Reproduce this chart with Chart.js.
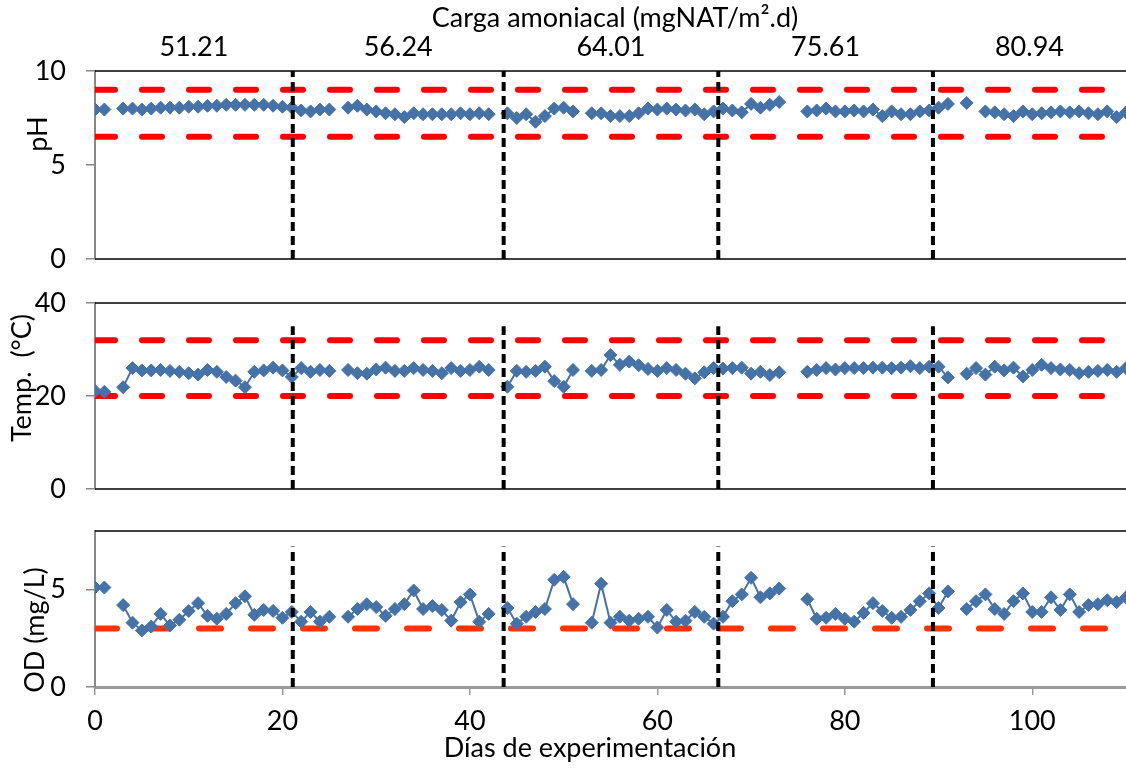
<!DOCTYPE html>
<html>
<head>
<meta charset="utf-8">
<title>Carga amoniacal - pH, temperatura y OD</title>
<script src="https://cdn.jsdelivr.net/npm/chart.js@4.4.1/dist/chart.umd.min.js"></script>
<style>
    html, body { margin: 0; padding: 0; background: #fff; }
    #wrap { position: relative; width: 1126px; height: 768px; overflow: hidden; background: #fff; }
    #wrap canvas { position: absolute; left: 0; top: 0; }
</style>
</head>
<body>
<div id="wrap">
    <canvas id="phChart" width="1126" height="768"></canvas>
    <canvas id="tempChart" width="1126" height="768"></canvas>
    <canvas id="odChart" width="1126" height="768"></canvas>
</div>
<script>
// Days of experimentation (x values)
const days = [
    0, 1, 2, 3, 4, 5, 6, 7, 8, 9, 10, 11, 12, 13, 14, 15, 16, 17, 18, 19,
    20, 21, 22, 23, 24, 25, 26, 27, 28, 29, 30, 31, 32, 33, 34, 35, 36, 37, 38, 39,
    40, 41, 42, 43, 44, 45, 46, 47, 48, 49, 50, 51, 52, 53, 54, 55, 56, 57, 58, 59,
    60, 61, 62, 63, 64, 65, 66, 67, 68, 69, 70, 71, 72, 73, 74, 75, 76, 77, 78, 79,
    80, 81, 82, 83, 84, 85, 86, 87, 88, 89, 90, 91, 92, 93, 94, 95, 96, 97, 98, 99,
    100, 101, 102, 103, 104, 105, 106, 107, 108, 109, 110
];

// pH per day (null = no measurement)
const phValues = [
    7.95, 7.95, null, 8.0, 8.0, 7.95, 8.0, 8.05, 8.05, 8.05, 8.1, 8.1, 8.15, 8.15, 8.2, 8.2, 8.2, 8.2, 8.2, 8.15,
    8.1, 8.05, 7.9, 7.85, 7.95, 7.95, null, 8.05, 8.15, 7.95, 7.85, 7.75, 7.7, 7.55, 7.75, 7.7, 7.7, 7.7, 7.7, 7.75,
    7.7, 7.75, 7.7, null, 7.75, 7.5, 7.7, 7.3, 7.6, 8.0, 8.05, 7.85, null, 7.75, 7.75, 7.6, 7.6, 7.6, 7.75, 8.0,
    7.95, 8.0, 7.95, 7.9, 7.95, 7.7, 7.85, 8.0, 7.9, 7.8, 8.25, 8.05, 8.2, 8.35, null, null, 7.85, 7.9, 8.0, 7.85,
    7.85, 7.9, 7.85, 7.95, 7.6, 7.85, 7.7, 7.7, 7.85, 7.9, 8.05, 8.25, null, 8.3, null, 7.85, 7.8, 7.7, 7.6, 7.85,
    7.7, 7.75, 7.8, 7.85, 7.8, 7.85, 7.75, 7.7, 7.85, 7.55, 7.8
];

// Temperature per day (°C)
const tempValues = [
    21.1, 20.9, null, 21.9, 26.0, 25.5, 25.5, 25.6, 25.4, 25.2, 24.9, 24.6, 25.6, 25.2, 24.1, 23.3, 21.9, 25.2, 25.5, 26.1,
    25.5, 24.1, 26.0, 25.2, 25.6, 25.4, null, 25.6, 24.9, 24.8, 25.7, 26.1, 25.4, 25.4, 26.0, 25.6, 25.4, 24.9, 26.0, 25.4,
    25.6, 26.3, 25.6, null, 22.0, 25.4, 25.2, 25.4, 26.3, 23.2, 22.0, 25.6, null, 25.4, 25.6, 28.8, 26.7, 27.4, 26.6, 25.8,
    25.4, 26.0, 25.6, 24.8, 23.8, 25.1, 26.0, 25.9, 26.0, 26.1, 24.8, 25.2, 24.5, 25.1, null, null, 25.2, 25.6, 26.0, 25.7,
    26.0, 26.0, 26.0, 26.1, 26.1, 26.0, 26.1, 26.4, 26.0, 26.3, 26.3, 24.0, null, 24.8, 26.0, 24.6, 26.3, 25.5, 26.1, 24.2,
    25.6, 26.7, 26.0, 25.7, 25.6, 24.9, 25.2, 25.4, 25.6, 25.2, 26.0
];

// Dissolved oxygen per day (mg/L)
const odValues = [
    5.1, 5.1, null, 4.2, 3.3, 2.9, 3.1, 3.75, 3.15, 3.45, 3.9, 4.3, 3.65, 3.5, 3.75, 4.3, 4.65, 3.7, 3.95, 3.9,
    3.55, 3.85, 3.35, 3.85, 3.35, 3.6, null, 3.6, 4.0, 4.25, 4.1, 3.65, 4.0, 4.25, 4.95, 4.0, 4.15, 3.95, 3.4, 4.35,
    4.75, 3.35, 3.75, null, 4.05, 3.25, 3.6, 3.85, 4.0, 5.5, 5.65, 4.25, null, 3.3, 5.3, 3.3, 3.6, 3.4, 3.5, 3.6,
    3.05, 3.95, 3.35, 3.4, 3.85, 3.6, 3.25, 3.6, 4.4, 4.75, 5.6, 4.6, 4.8, 5.05, null, null, 4.5, 3.5, 3.55, 3.75,
    3.5, 3.35, 3.8, 4.3, 3.9, 3.55, 3.6, 3.95, 4.4, 4.8, 4.05, 4.9, null, 4.0, 4.4, 4.75, 4.0, 3.75, 4.4, 4.8,
    3.85, 3.85, 4.6, 3.95, 4.75, 3.85, 4.2, 4.25, 4.45, 4.35, 4.6
];

// Limits (red dashed lines)
const phLimits = [6.5, 9];
const tempLimits = [20, 32];
const odLimits = [3];

// Days where the ammonia load changes, and the loads of each period
const phaseDays = [21.1, 43.6, 66.5, 89.4];
const loadLabels = ['51.21', '56.24', '64.01', '75.61', '80.94'];

// Height reached by the phase separators in each panel
const phPhaseTop = 10;
const tempPhaseTop = 35;
const odPhaseTop = 7.2;

const X_MIN = 0;
const X_MAX = 110;
const BLUE = '#4572A7';
const FONT_FAMILY = 'Lato, "Open Sans", sans-serif';
const FONT_SIZE = 27;
const FONT = `${FONT_SIZE}px ${FONT_FAMILY}`;

Chart.defaults.font.family = FONT_FAMILY;
Chart.defaults.font.size = FONT_SIZE;
Chart.defaults.color = '#000';

function seriesDataset(values) {
    return {
        data: days.map((d, i) => ({ x: d, y: values[i] })),
        borderColor: BLUE,
        backgroundColor: BLUE,
        borderWidth: 2,
        pointStyle: 'rectRot',
        pointRadius: 6.5,
        pointBorderWidth: 1,
        pointBackgroundColor: BLUE,
        pointBorderColor: BLUE,
        spanGaps: false,
        order: 1
    };
}

function limitDatasets(limits, color, dash) {
    return limits.map(v => ({
        data: [{ x: X_MIN, y: v }, { x: X_MAX, y: v }],
        borderColor: color,
        borderWidth: 6,
        borderDash: dash,
        borderCapStyle: 'round',
        pointRadius: 0,
        order: 2
    }));
}

function phaseDatasets(top) {
    return phaseDays.map(d => ({
        data: [{ x: d, y: 0 }, { x: d, y: top }],
        borderColor: '#000',
        borderWidth: 4,
        borderDash: [9, 5],
        pointRadius: 0,
        order: 0
    }));
}

// Draws panel frame lines and the free texts of each panel
function decorPlugin(opts) {
    return {
        id: 'decor',
        afterDraw(chart) {
            const ctx = chart.ctx;
            const area = chart.chartArea;
            ctx.save();
            ctx.strokeStyle = '#000';
            ctx.lineWidth = 1.5;
            ctx.beginPath();
            ctx.moveTo(area.left, area.top);
            ctx.lineTo(area.right, area.top);
            if (opts.bottomLine) {
                ctx.moveTo(area.left, area.bottom);
                ctx.lineTo(area.right, area.bottom);
            }
            ctx.stroke();

            ctx.fillStyle = '#000';
            ctx.font = FONT;
            ctx.textAlign = 'center';
            ctx.textBaseline = 'middle';

            (opts.texts || []).forEach(t => {
                ctx.fillText(t.text, t.x, t.y);
            });

            if (opts.loadLabels) {
                const xs = chart.scales.x;
                const bounds = [X_MIN, ...phaseDays, X_MAX];
                opts.loadLabels.forEach((label, i) => {
                    const mid = (bounds[i] + bounds[i + 1]) / 2;
                    ctx.fillText(label, xs.getPixelForValue(mid), opts.loadY);
                });
            }

            if (opts.yTitle) {
                ctx.translate(opts.yTitle.x, opts.yTitle.y);
                ctx.rotate(-Math.PI / 2);
                ctx.fillText(opts.yTitle.text, 0, 0);
            }
            ctx.restore();
        }
    };
}

function yAxis(max, step) {
    return {
        min: 0,
        max: max,
        afterFit: (scale) => { scale.width = 95; },
        ticks: { stepSize: step, padding: 20, includeBounds: false, font: { size: FONT_SIZE } },
        grid: { drawOnChartArea: false, drawTicks: true, tickLength: 9, color: '#888', lineWidth: 1.5 },
        border: { display: true, color: '#888', width: 2 }
    };
}

function hiddenX() {
    return { type: 'linear', min: X_MIN, max: X_MAX, display: false };
}

function buildChart(id, datasets, scales, padding, decor) {
    return new Chart(document.getElementById(id), {
        type: 'line',
        data: { datasets: datasets },
        options: {
            responsive: false,
            animation: false,
            devicePixelRatio: 1,
            layout: { padding: padding, autoPadding: false },
            plugins: { legend: { display: false }, tooltip: { enabled: false } },
            scales: scales
        },
        plugins: [decorPlugin(decor)]
    });
}

// pH panel
buildChart('phChart',
    [...phaseDatasets(phPhaseTop), seriesDataset(phValues), ...limitDatasets(phLimits, '#FF0000', [20, 27])],
    { x: hiddenX(), y: yAxis(10, 5) },
    { top: 71, bottom: 768 - 259, left: 0, right: 0 },
    {
        bottomLine: true,
        texts: [{ text: 'Carga amoniacal (mgNAT/m².d)', x: 615, y: 18 }],
        loadLabels: loadLabels,
        loadY: 47,
        yTitle: { text: 'pH', x: 38, y: 134 }
    }
);

// Temperature panel
buildChart('tempChart',
    [...phaseDatasets(tempPhaseTop), seriesDataset(tempValues), ...limitDatasets(tempLimits, '#FF0000', [20, 27])],
    { x: hiddenX(), y: yAxis(40, 20) },
    { top: 303, bottom: 768 - 489, left: 0, right: 0 },
    {
        bottomLine: true,
        yTitle: { text: 'Temp.  (°C)', x: 22, y: 378 }
    }
);

// Dissolved oxygen panel
buildChart('odChart',
    [...phaseDatasets(odPhaseTop), seriesDataset(odValues), ...limitDatasets(odLimits, '#FF3300', [22, 30])],
    {
        x: {
            type: 'linear',
            min: X_MIN,
            max: X_MAX,
            afterFit: (scale) => { scale.height = 768 - 687; },
            ticks: { stepSize: 20, includeBounds: false, padding: 10, maxRotation: 0, font: { size: FONT_SIZE } },
            grid: { drawOnChartArea: false, drawTicks: true, tickLength: 8, color: '#999', lineWidth: 1.5 },
            border: { display: true, color: '#999', width: 3 }
        },
        y: yAxis(8, 5)
    },
    { top: 531, bottom: 0, left: 0, right: 0 },
    {
        bottomLine: false,
        texts: [{ text: 'Días de experimentación', x: 590, y: 748 }],
        yTitle: { text: 'OD (mg/L)', x: 35, y: 630 }
    }
);
</script>
</body>
</html>
